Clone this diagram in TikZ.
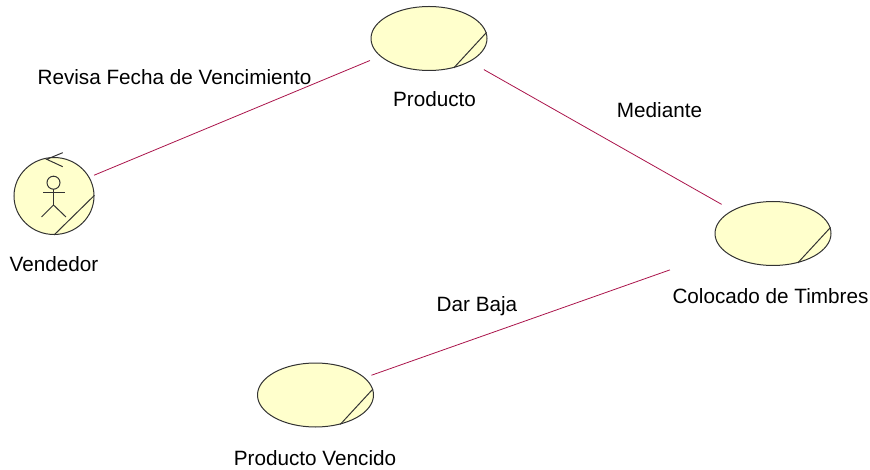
\documentclass[tikz,border=0pt]{standalone}
\usepackage{fontspec}
\setmainfont{Liberation Sans}
\usetikzlibrary{shapes.geometric}

\definecolor{objfill}{RGB}{255,255,204}
\definecolor{objline}{RGB}{51,51,51}
\definecolor{linkcolor}{RGB}{170,20,75}

\tikzset{
  obj/.style={ellipse, draw=objline, fill=objfill, line width=1pt, inner sep=0pt, minimum width=116pt, minimum height=64pt},
  actorobj/.style={obj, minimum width=80pt, minimum height=77pt},
  fold/.style={draw=objline, line width=1pt},
  link/.style={draw=linkcolor, line width=.8pt},
  txt/.style={font=\fontsize{20.7pt}{23pt}\selectfont, text=black, inner sep=0pt}
}

\begin{document}
\begin{tikzpicture}[x=1pt, y=-1pt]

\useasboundingbox (0,0) rectangle (870,470);

\node[actorobj] (vendedor) at (54,196) {};
\node[obj] (producto) at (429,38.5) {};
\node[obj] (colocado) at (773,233.5) {};
\node[obj] (vencido) at (315.5,395) {};

\path[fold] (vendedor.-90) -- (vendedor.1);
\path[fold] (producto.-50) -- (producto.6);
\path[fold] (colocado.-50) -- (colocado.6);
\path[fold] (vencido.-50) -- (vencido.6);

% actor
\path[fold] (53.5,182.7) circle (6.5);
\path[fold] (43,192.3) -- (65,192.3);
\path[fold] (53.5,189.2) -- (53.5,205);
\path[fold] (41.5,217) -- (53.5,205) -- (66,217);
\path[fold] (62.7,152.7) -- (46.7,159.3) -- (62.7,166.7);

\path[link, shorten <=5pt, shorten >=11pt] (vendedor.28) -- (producto.200);
\path[link, shorten <=16pt, shorten >=12pt] (producto) -- (colocado);
\path[link, shorten <=57pt, shorten >=7pt] (colocado) -- (vencido);

\node[txt] (revisa) at (174.5,77) {Revisa Fecha de Vencimiento};
\node[txt] (mediante) at (659.5,110) {Mediante};
\node[txt] (darbaja) at (477,306) {Dar Baja};
\node[txt] (lblproducto) at (434.5,99) {Producto};
\node[txt] (lblvendedor) at (54,264) {Vendedor};
\node[txt] (lblcolocado) at (770.5,296) {Colocado de Timbres};
\node[txt] (lblvencido) at (315,458) {Producto Vencido};

\end{tikzpicture}
\end{document}
